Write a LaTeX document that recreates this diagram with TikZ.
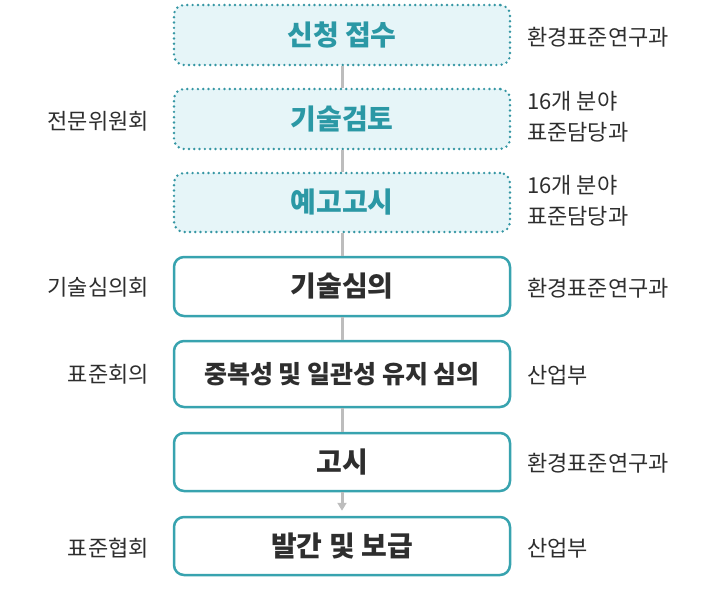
\documentclass[tikz,border=0pt]{standalone}
\usepackage{fontspec}
\setmainfont{Noto Sans CJK KR}
\usetikzlibrary{arrows.meta}
\definecolor{teal1}{HTML}{38A3AF}
\definecolor{dotcol}{HTML}{3596A3}
\definecolor{tealtxt}{HTML}{2B98A5}
\definecolor{lightfill}{HTML}{E6F5F8}
\definecolor{darktxt}{HTML}{2E2E2E}
\definecolor{conn}{HTML}{BDBDBD}
\begin{document}
\begin{tikzpicture}[x=1pt,y=-1pt,
  dotbox/.style={draw=dotcol, fill=lightfill, line width=2.7pt, line cap=round,
     dash pattern=on 0pt off 5.3pt, rounded corners=10pt, minimum width=336pt,
     inner sep=0pt, text=tealtxt, font=\fontsize{28}{32}\selectfont\bfseries},
  solidbox/.style={draw=teal1, fill=white, line width=2.5pt, rounded corners=10pt,
     minimum width=336pt, inner sep=0pt, text=darktxt,
     font=\fontsize{28}{32}\selectfont\bfseries},
  rlab/.style={anchor=west, align=left, text=darktxt, inner sep=0pt,
     font=\fontsize{22}{31}\selectfont},
  llab/.style={anchor=east, align=right, text=darktxt, inner sep=0pt,
     font=\fontsize{22}{31}\selectfont},
  link/.style={draw=conn, line width=3pt}
]
\useasboundingbox (0,0) rectangle (720,600);
\node[dotbox, minimum height=60pt] (b1) at (342,35) {신청 접수};
\node[dotbox, minimum height=60pt] (b2) at (342,119) {기술검토};
\node[dotbox, minimum height=59pt] (b3) at (342,202.5) {예고고시};
\node[solidbox, minimum height=59pt] (b4) at (342,286.5) {기술심의};
\node[solidbox, minimum height=66pt, font=\fontsize{25}{30}\selectfont\bfseries] (b5) at (342,374) {중복성 및 일관성 유지 심의};
\node[solidbox, minimum height=58pt] (b6) at (342,462) {고시};
\node[solidbox, minimum height=58pt] (b7) at (342,546) {발간 및 보급};

\draw[link] (b1.south) -- (b2.north);
\draw[link] (b2.south) -- (b3.north);
\draw[link] (b3.south) -- (b4.north);
\draw[link] (b4.south) -- (b5.north);
\draw[link] (b5.south) -- (b6.north);
\draw[link, -{Triangle[length=8pt,width=9pt]}, shorten >=5pt] (b6.south) -- (b7.north);

\node[rlab] (r1) at (527,37) {환경표준연구과};
\node[rlab] (r2) at (527,117) {16개 분야\\표준담당과};
\node[rlab] (r3) at (527,201) {16개 분야\\표준담당과};
\node[rlab] (r4) at (527,288) {환경표준연구과};
\node[rlab] (r5) at (527,375) {산업부};
\node[rlab] (r6) at (527,463) {환경표준연구과};
\node[rlab] (r7) at (527,548) {산업부};

\node[llab] (l2) at (149,121) {전문위원회};
\node[llab] (l4) at (149,287) {기술심의회};
\node[llab] (l5) at (149,374) {표준회의};
\node[llab] (l7) at (149,548) {표준협회};
\end{tikzpicture}
\end{document}
